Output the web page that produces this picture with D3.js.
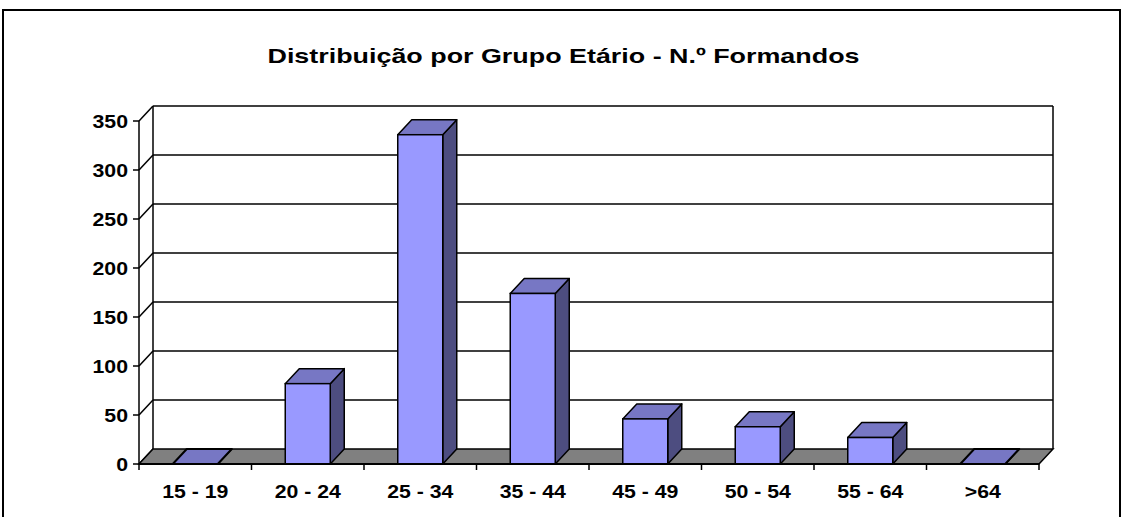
<!DOCTYPE html>
<html>
<head>
<meta charset="utf-8">
<script src="https://cdn.jsdelivr.net/npm/d3@7"></script>
<style>
  body { margin: 0; background: #fff; }
  text { font-family: "Liberation Sans", Arial, sans-serif; font-weight: bold; fill: #000; }
</style>
</head>
<body>
<svg id="container"></svg>
<script>
// chart data
const categories = ["15 - 19", "20 - 24", "25 - 34", "35 - 44", "45 - 49", "50 - 54", "55 - 64", ">64"];
const values = [0, 82, 336, 174, 46, 38, 27, 0];
const yTicks = [0, 50, 100, 150, 200, 250, 300, 350];
const titleText = "Distribuição por Grupo Etário - N.º Formandos";

let width = 1123, height = 517;

// plot area (front plane) and depth offset of the 3d box
var plot = {left: 139, right: 1039, top: 121, bottom: 464};
var depth = {dx: 14, dy: -15};

let svg = d3.select("#container")
    .attr("width", width)
    .attr("height", height);

// outer chart border
svg.append("rect")
    .attr("x", 3).attr("y", 10)
    .attr("width", 1117).attr("height", 520)
    .attr("fill", "none")
    .attr("stroke", "#000")
    .attr("stroke-width", 2);

// title, stretched horizontally like the source
svg.append("text")
    .attr("transform", "translate(" + (width / 2 + 2) + ",63) scale(1.28,1)")
    .attr("text-anchor", "middle")
    .style("font-size", "21px")
    .text(titleText);

const xScale = d3.scaleBand()
    .domain(categories)
    .range([plot.left, plot.right])
    .paddingInner(0.6)
    .paddingOuter(0.3);

const yScale = d3.scaleLinear()
    .domain([0, 350])
    .range([plot.bottom, plot.top]);

const stepW = (plot.right - plot.left) / categories.length;

// back wall gridlines
svg.append("g")
    .selectAll("line")
    .data(yTicks.slice(1))
    .enter()
    .append("line")
        .attr("x1", plot.left + depth.dx)
        .attr("x2", plot.right + depth.dx)
        .attr("y1", d => yScale(d) + depth.dy)
        .attr("y2", d => yScale(d) + depth.dy)
        .attr("stroke", "#000")
        .attr("stroke-width", 1.5);

// side wall diagonals
svg.append("g")
    .selectAll("line")
    .data(yTicks)
    .enter()
    .append("line")
        .attr("x1", plot.left)
        .attr("x2", plot.left + depth.dx)
        .attr("y1", d => yScale(d))
        .attr("y2", d => yScale(d) + depth.dy)
        .attr("stroke", "#000")
        .attr("stroke-width", 1.5);

// back wall vertical edges
[plot.left + depth.dx, plot.right + depth.dx].forEach(x => {
    svg.append("line")
        .attr("x1", x).attr("x2", x)
        .attr("y1", yScale(350) + depth.dy)
        .attr("y2", yScale(0) + depth.dy)
        .attr("stroke", "#000")
        .attr("stroke-width", 1.5);
});

// floor
const y0 = yScale(0);
svg.append("polygon")
    .attr("points", [
        [plot.left, y0],
        [plot.left + depth.dx, y0 + depth.dy],
        [plot.right + depth.dx, y0 + depth.dy],
        [plot.right, y0]
    ].join(" "))
    .attr("fill", "#808080")
    .attr("stroke", "#000")
    .attr("stroke-width", 1.5);

// bars
let bars = svg.append("g")
    .selectAll("g")
    .data(categories.map((c, i) => ({cat: c, value: values[i]})))
    .enter()
    .append("g");

bars.append("polygon")   // side face
    .attr("points", d => {
        let x0 = xScale(d.cat) + xScale.bandwidth(), yt = yScale(d.value);
        return [[x0, yt], [x0 + depth.dx, yt + depth.dy], [x0 + depth.dx, y0 + depth.dy], [x0, y0]].join(" ");
    })
    .attr("fill", "#4d4d80")
    .attr("stroke", "#000")
    .attr("stroke-width", 1.5)
    .attr("stroke-linejoin", "round");

bars.append("polygon")   // top face
    .attr("points", d => {
        let x0 = xScale(d.cat), w = xScale.bandwidth(), yt = yScale(d.value);
        return [[x0, yt], [x0 + depth.dx, yt + depth.dy], [x0 + w + depth.dx, yt + depth.dy], [x0 + w, yt]].join(" ");
    })
    .attr("fill", "#7777c4")
    .attr("stroke", "#000")
    .attr("stroke-width", d => d.value == 0 ? 2 : 1.5)
    .attr("stroke-linejoin", "round");

bars.append("rect")      // front face
    .attr("x", d => xScale(d.cat))
    .attr("y", d => yScale(d.value))
    .attr("width", xScale.bandwidth())
    .attr("height", d => y0 - yScale(d.value))
    .attr("fill", "#9999ff")
    .attr("stroke", "#000")
    .attr("stroke-width", 1.5);

// front y axis
svg.append("line")
    .attr("x1", plot.left).attr("x2", plot.left)
    .attr("y1", yScale(350)).attr("y2", y0)
    .attr("stroke", "#000").attr("stroke-width", 1.5);

svg.append("g")
    .selectAll("line")
    .data(yTicks)
    .enter()
    .append("line")
        .attr("x1", plot.left - 6).attr("x2", plot.left)
        .attr("y1", d => yScale(d)).attr("y2", d => yScale(d))
        .attr("stroke", "#000").attr("stroke-width", 1.5);

svg.append("g")
    .selectAll("text")
    .data(yTicks)
    .enter()
    .append("text")
        .attr("transform", d => "translate(" + (plot.left - 11) + "," + (yScale(d) + 7) + ") scale(1.12,1)")
        .attr("text-anchor", "end")
        .style("font-size", "19px")
        .text(d => d);

// front x axis
svg.append("line")
    .attr("x1", plot.left).attr("x2", plot.right)
    .attr("y1", y0).attr("y2", y0)
    .attr("stroke", "#000").attr("stroke-width", 2);

svg.append("g")
    .selectAll("line")
    .data(d3.range(categories.length + 1))
    .enter()
    .append("line")
        .attr("x1", i => plot.left + i * stepW)
        .attr("x2", i => plot.left + i * stepW)
        .attr("y1", y0).attr("y2", y0 + 6)
        .attr("stroke", "#000").attr("stroke-width", 1.5);

svg.append("g")
    .selectAll("text")
    .data(categories)
    .enter()
    .append("text")
        .attr("transform", d => "translate(" + (xScale(d) + xScale.bandwidth() / 2) + ",498) scale(1.12,1)")
        .attr("text-anchor", "middle")
        .style("font-size", "19px")
        .text(d => d);
</script>
</body>
</html>
